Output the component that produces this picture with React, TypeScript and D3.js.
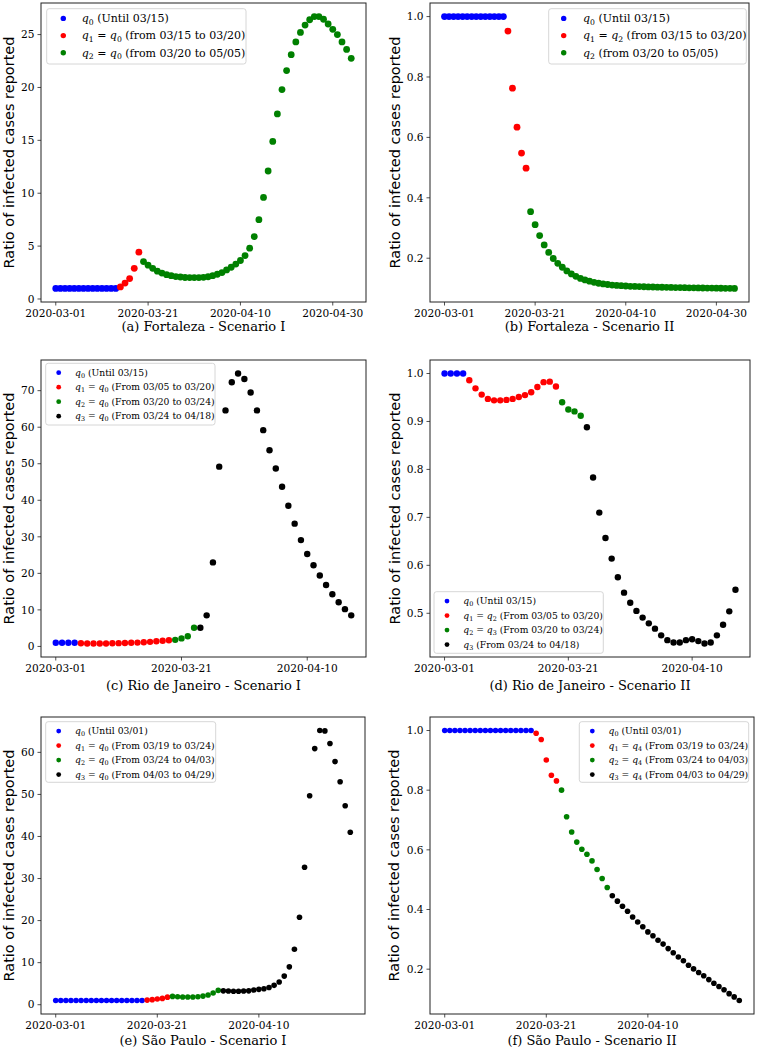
import React from "react";
import * as d3 from "d3";

const DAY = 86400000;
const START = Date.UTC(2020, 2, 1);

// (a) Fortaleza - Scenario I
const fortIq0 = [1, 1, 1, 1, 1, 1, 1, 1, 1, 1, 1, 1, 1, 1];
const fortIq1 = [1.14, 1.5, 1.93, 2.9, 4.43];
const fortIq2 = [
  3.54, 3.2, 2.9, 2.63, 2.45, 2.3, 2.2, 2.12, 2.08, 2.03, 2.02, 2.02, 2.02, 2.05, 2.1, 2.2,
  2.34, 2.5, 2.75, 3.0, 3.3, 3.64, 4.1, 4.8, 5.9, 7.5, 9.6, 12.1, 14.9, 17.5, 19.8, 21.6,
  23.1, 24.3, 25.2, 25.9, 26.4, 26.7, 26.7, 26.45, 26.0, 25.5, 25.0, 24.3, 23.6, 22.75,
];

// (b) Fortaleza - Scenario II
const fortIIq0 = [1, 1, 1, 1, 1, 1, 1, 1, 1, 1, 1, 1, 1, 1];
const fortIIq1 = [0.952, 0.763, 0.634, 0.548, 0.498];
const fortIIq2 = [
  0.354, 0.311, 0.275, 0.244, 0.219, 0.199, 0.183, 0.17, 0.158, 0.148, 0.14, 0.133, 0.128,
  0.124, 0.12, 0.117, 0.115, 0.113, 0.111, 0.11, 0.109, 0.108, 0.107, 0.1065, 0.106, 0.1055,
  0.105, 0.1046, 0.1042, 0.1038, 0.1035, 0.1032, 0.1029, 0.1026, 0.1023, 0.102, 0.1018,
  0.1016, 0.1014, 0.1012, 0.101, 0.1008, 0.1006, 0.1004, 0.1002, 0.1,
];

// (c) Rio de Janeiro - Scenario I
const rioIq0 = [1, 1, 1, 1];
const rioIq1 = [0.85, 0.82, 0.8, 0.8, 0.82, 0.85, 0.9, 0.95, 1.0, 1.05, 1.15, 1.25, 1.4, 1.55, 1.7];
const rioIq2 = [1.8, 2.2, 2.8, 5.1];
const rioIq3 = [
  5.1, 8.5, 23.0, 49.2, 64.6, 72.3, 74.7, 73.2, 69.5, 64.6, 59.2, 53.7, 48.7, 43.7, 38.5,
  33.6, 29.1, 25.3, 22.2, 19.4, 16.8, 14.3, 12.1, 10.2, 8.5,
];

// (d) Rio de Janeiro - Scenario II
const rioIIq0 = [1, 1, 1, 1];
const rioIIq1 = [
  0.986, 0.969, 0.956, 0.947, 0.944, 0.944, 0.945, 0.947, 0.951, 0.955, 0.961, 0.972, 0.982,
  0.983, 0.973,
];
const rioIIq2 = [0.94, 0.925, 0.921, 0.912];
const rioIIq3 = [
  0.888, 0.783, 0.71, 0.657, 0.614, 0.575, 0.543, 0.522, 0.505, 0.491, 0.479, 0.468, 0.454,
  0.444, 0.439, 0.439, 0.444, 0.446, 0.442, 0.437, 0.439, 0.454, 0.476, 0.504, 0.549,
];

// (e) São Paulo - Scenario I
const spIq0 = [1, 1, 1, 1, 1, 1, 1, 1, 1, 1, 1, 1, 1, 1, 1, 1, 1, 1];
const spIq1 = [1.1, 1.2, 1.35, 1.5, 1.8];
const spIq2 = [1.97, 1.9, 1.85, 1.85, 1.85, 1.9, 2.05, 2.3, 2.8, 3.4];
const spIq3 = [
  3.3, 3.25, 3.2, 3.2, 3.25, 3.3, 3.5, 3.65, 3.8, 4.1, 4.6, 5.4, 6.8, 9.0, 13.2, 20.8, 32.7,
  49.7, 60.9, 65.2, 65.1, 62.1, 57.8, 53.0, 47.3, 41.0,
];

// (f) São Paulo - Scenario II
const spIIq0 = [1, 1, 1, 1, 1, 1, 1, 1, 1, 1, 1, 1, 1, 1, 1, 1, 1, 1];
const spIIq1 = [0.991, 0.97, 0.901, 0.85, 0.831];
const spIIq2 = [0.8, 0.711, 0.66, 0.626, 0.602, 0.585, 0.563, 0.534, 0.504, 0.474];
const spIIq3 = [
  0.446, 0.428, 0.411, 0.394, 0.375, 0.358, 0.342, 0.325, 0.312, 0.297, 0.284, 0.269, 0.255,
  0.241, 0.228, 0.213, 0.201, 0.189, 0.178, 0.165, 0.153, 0.142, 0.131, 0.118, 0.107, 0.095,
];

const colors = ["#0000ff", "#ff0000", "#008000", "#000000"];

const xTicksLong = ["2020-03-01", "2020-03-21", "2020-04-10", "2020-04-30"];
const xTicksShort = ["2020-03-01", "2020-03-21", "2020-04-10"];
const yTicksFortI = [0, 5, 10, 15, 20, 25];
const yTicksRatio = [0.2, 0.4, 0.6, 0.8, 1.0];
const yTicksRioI = [0, 10, 20, 30, 40, 50, 60, 70];
const yTicksRioII = [0.5, 0.6, 0.7, 0.8, 0.9, 1.0];
const yTicksSpI = [0, 10, 20, 30, 40, 50, 60];

// legend rows: [subscript, equals-subscript or null, text]
const legendFortI = [
  ["0", null, "(Until 03/15)"],
  ["1", "0", "(from 03/15 to 03/20)"],
  ["2", "0", "(from 03/20 to 05/05)"],
];
const legendFortII = [
  ["0", null, "(Until 03/15)"],
  ["1", "2", "(from 03/15 to 03/20)"],
  ["2", null, "(from 03/20 to 05/05)"],
];
const legendRioI = [
  ["0", null, "(Until 03/15)"],
  ["1", "0", "(From 03/05 to 03/20)"],
  ["2", "0", "(From 03/20 to 03/24)"],
  ["3", "0", "(From 03/24 to 04/18)"],
];
const legendRioII = [
  ["0", null, "(Until 03/15)"],
  ["1", "2", "(From 03/05 to 03/20)"],
  ["2", "3", "(From 03/20 to 03/24)"],
  ["3", null, "(From 03/24 to 04/18)"],
];
const legendSpI = [
  ["0", null, "(Until 03/01)"],
  ["1", "0", "(From 03/19 to 03/24)"],
  ["2", "0", "(From 03/24 to 04/03)"],
  ["3", "0", "(From 04/03 to 04/29)"],
];
const legendSpII = [
  ["0", null, "(Until 03/01)"],
  ["1", "4", "(From 03/19 to 03/24)"],
  ["2", "4", "(From 03/24 to 04/03)"],
  ["3", "4", "(From 04/03 to 04/29)"],
];

const bigLeg = { rowH: 17.2, fs: 11, r: 2.7, mx: 16.6, tx: 35, ty0: 9.7 };
const smallLeg = { rowH: 14.5, fs: 9.2, r: 2.4, mx: 13, tx: 29.3, ty0: 9.4 };

const panels = [
  {
    caption: "(a) Fortaleza - Scenario I",
    series: [fortIq0, fortIq1, fortIq2],
    legend: legendFortI,
    leg: { ...bigLeg, x: 46.7, y: 8.7, w: 199.3, h: 55.3 },
    box: [41, 366, 3, 302],
    yTicks: yTicksFortI, yFmt: "d", xTicks: xTicksLong,
    ylabelX: 9, captionY: 330.5, r: 3.4,
  },
  {
    caption: "(b) Fortaleza - Scenario II",
    series: [fortIIq0, fortIIq1, fortIIq2],
    legend: legendFortII,
    leg: { ...bigLeg, x: 548.7, y: 8.7, w: 197.6, h: 55.3, mx: 15, tx: 34.3 },
    box: [430, 749, 3, 302],
    yTicks: yTicksRatio, yFmt: ".1f", xTicks: xTicksLong,
    ylabelX: 394.5, captionY: 330.5, r: 3.4,
  },
  {
    caption: "(c) Rio de Janeiro - Scenario I",
    series: [rioIq0, rioIq1, rioIq2, rioIq3],
    legend: legendRioI,
    leg: { ...smallLeg, x: 45.7, y: 363.3, w: 169.3, h: 61.7 },
    box: [41, 366, 360, 657],
    yTicks: yTicksRioI, yFmt: "d", xTicks: xTicksShort,
    ylabelX: 9, captionY: 689.5, r: 3.2,
  },
  {
    caption: "(d) Rio de Janeiro - Scenario II",
    series: [rioIIq0, rioIIq1, rioIIq2, rioIIq3],
    legend: legendRioII,
    leg: { ...smallLeg, x: 434, y: 591.7, w: 169.3, h: 61.6 },
    box: [430, 750, 360, 657],
    yTicks: yTicksRioII, yFmt: ".1f", xTicks: xTicksShort,
    ylabelX: 394.5, captionY: 689.5, r: 3.2,
  },
  {
    caption: "(e) São Paulo - Scenario I",
    series: [spIq0, spIq1, spIq2, spIq3],
    legend: legendSpI,
    leg: { ...smallLeg, x: 45.7, y: 721.7, w: 170, h: 60.6 },
    box: [41, 365, 717, 1014],
    yTicks: yTicksSpI, yFmt: "d", xTicks: xTicksShort,
    ylabelX: 9, captionY: 1045, r: 2.8,
  },
  {
    caption: "(f) São Paulo - Scenario II",
    series: [spIIq0, spIIq1, spIIq2, spIIq3],
    legend: legendSpII,
    leg: { ...smallLeg, x: 579.3, y: 721.7, w: 169.4, h: 60.6 },
    box: [430, 754, 717, 1014],
    yTicks: yTicksRatio, yFmt: ".1f", xTicks: xTicksShort,
    ylabelX: 394, captionY: 1045, r: 2.8,
  },
];

const parseDay = d3.utcParse("%Y-%m-%d");
const SERIF = "'DejaVu Serif', serif";
const SANS = "'DejaVu Sans', sans-serif";

function LegendText({ row, x, y, fs }) {
  const [sub, eq, text] = row;
  const s = fs * 0.7;
  const d = fs * 0.22;
  return (
    <text x={x} y={y} fontFamily={SERIF} fontSize={fs} style={{ whiteSpace: "pre" }}>
      <tspan fontStyle="italic">q</tspan>
      <tspan fontSize={s} dy={d}>{sub}</tspan>
      {eq !== null ? (
        <>
          <tspan dy={-d}>{" = "}</tspan>
          <tspan fontStyle="italic">q</tspan>
          <tspan fontSize={s} dy={d}>{eq}</tspan>
        </>
      ) : null}
      <tspan dy={-d}>{" " + text}</tspan>
    </text>
  );
}

function Panel({ p }) {
  const [x0, x1, y0, y1] = p.box;
  const all = p.series.flat();
  const n = all.length;
  const xPad = (n - 1) * 0.05;
  const x = d3
    .scaleUtc()
    .domain([new Date(START - xPad * DAY), new Date(START + (n - 1 + xPad) * DAY)])
    .range([x0, x1]);
  const [lo, hi] = d3.extent(all);
  const yPad = (hi - lo) * 0.05;
  const y = d3.scaleLinear().domain([lo - yPad, hi + yPad]).range([y1, y0]);
  const fmt = d3.format(p.yFmt);
  const fmtDate = d3.utcFormat("%Y-%m-%d");

  let day = 0;
  const pts = p.series.flatMap((vals, si) =>
    vals.map((v) => ({ date: new Date(START + day++ * DAY), v, color: colors[si] }))
  );

  const L = p.leg;
  return (
    <g>
      {pts.map((d, i) => (
        <circle key={i} cx={x(d.date)} cy={y(d.v)} r={p.r} fill={d.color} />
      ))}
      <rect x={x0} y={y0} width={x1 - x0} height={y1 - y0} fill="none" stroke="#222" strokeWidth={1} />
      {p.xTicks.map((t) => {
        const dt = parseDay(t);
        const tx = x(dt);
        return (
          <g key={t}>
            <line x1={tx} x2={tx} y1={y1} y2={y1 + 3.5} stroke="#222" strokeWidth={0.8} />
            <text x={tx} y={y1 + 14.5} textAnchor="middle" fontFamily={SERIF} fontSize={10.6}>
              {fmtDate(dt)}
            </text>
          </g>
        );
      })}
      {p.yTicks.map((t) => (
        <g key={t}>
          <line x1={x0 - 3.5} x2={x0} y1={y(t)} y2={y(t)} stroke="#222" strokeWidth={0.8} />
          <text x={x0 - 6.5} y={y(t)} dy="0.35em" textAnchor="end" fontFamily={SERIF} fontSize={10.6}>
            {fmt(t)}
          </text>
        </g>
      ))}
      <text
        transform={`translate(${p.ylabelX},${(y0 + y1) / 2}) rotate(-90)`}
        textAnchor="middle"
        dy="0.35em"
        fontFamily={SANS}
        fontSize={14.5}
      >
        Ratio of infected cases reported
      </text>
      <text x={(x0 + x1) / 2} y={p.captionY} textAnchor="middle" fontFamily={SERIF} fontSize={13}>
        {p.caption}
      </text>
      <g>
        <rect x={L.x} y={L.y} width={L.w} height={L.h} rx={2.5} fill="#fff" fillOpacity={0.8} stroke="#cccccc" strokeWidth={0.8} />
        {p.legend.map((row, i) => {
          const cy = L.y + L.ty0 + i * L.rowH;
          return (
            <g key={i}>
              <circle cx={L.x + L.mx} cy={cy} r={L.r} fill={colors[i]} />
              <LegendText row={row} x={L.x + L.tx} y={cy + L.fs * 0.35} fs={L.fs} />
            </g>
          );
        })}
      </g>
    </g>
  );
}

export default function App() {
  return (
    <svg
      width={757}
      height={1050}
      viewBox="0 0 757 1050"
      style={{ position: "absolute", left: 0, top: 0, background: "#fff" }}
    >
      <rect width={757} height={1050} fill="#fff" />
      {panels.map((p, i) => (
        <Panel key={i} p={p} />
      ))}
    </svg>
  );
}
